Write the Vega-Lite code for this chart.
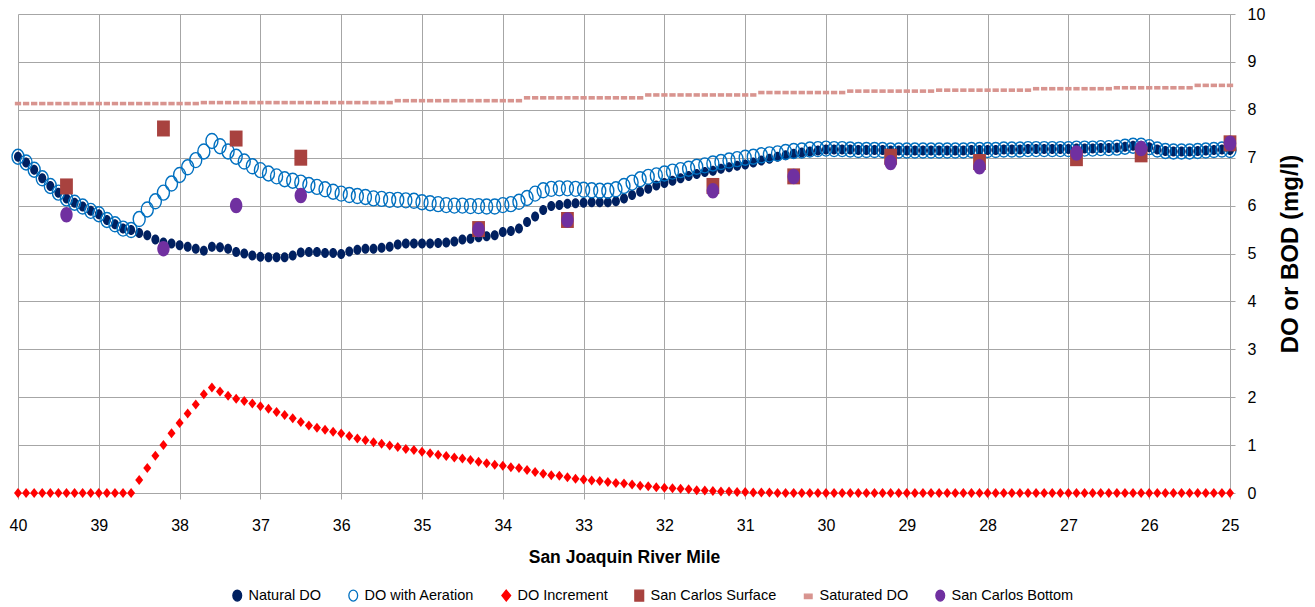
{
"$schema":"https://vega.github.io/schema/vega-lite/v6.json",
"width":1212,"height":479,
"autosize":{"type":"none"},
"padding":{"left":18,"top":14,"right":85,"bottom":114},
"background":"white",
"config":{"view":{"stroke":null},"font":"Liberation Sans"},
"data":{"values":[
{"s":"Natural DO","m":40,"v":7.02},{"s":"Natural DO","m":39.9,"v":6.90},{"s":"Natural DO","m":39.8,"v":6.75},{"s":"Natural DO","m":39.7,"v":6.57},{"s":"Natural DO","m":39.6,"v":6.41},{"s":"Natural DO","m":39.5,"v":6.27},{"s":"Natural DO","m":39.4,"v":6.15},{"s":"Natural DO","m":39.3,"v":6.06},{"s":"Natural DO","m":39.2,"v":5.98},{"s":"Natural DO","m":39.1,"v":5.89},
{"s":"Natural DO","m":39,"v":5.82},{"s":"Natural DO","m":38.9,"v":5.70},{"s":"Natural DO","m":38.8,"v":5.61},{"s":"Natural DO","m":38.7,"v":5.52},{"s":"Natural DO","m":38.6,"v":5.49},{"s":"Natural DO","m":38.5,"v":5.43},{"s":"Natural DO","m":38.4,"v":5.38},{"s":"Natural DO","m":38.3,"v":5.29},{"s":"Natural DO","m":38.2,"v":5.23},{"s":"Natural DO","m":38.1,"v":5.21},
{"s":"Natural DO","m":38,"v":5.17},{"s":"Natural DO","m":37.9,"v":5.14},{"s":"Natural DO","m":37.8,"v":5.10},{"s":"Natural DO","m":37.7,"v":5.06},{"s":"Natural DO","m":37.6,"v":5.14},{"s":"Natural DO","m":37.5,"v":5.13},{"s":"Natural DO","m":37.4,"v":5.10},{"s":"Natural DO","m":37.3,"v":5.03},{"s":"Natural DO","m":37.2,"v":5.00},{"s":"Natural DO","m":37.1,"v":4.96},
{"s":"Natural DO","m":37,"v":4.93},{"s":"Natural DO","m":36.9,"v":4.92},{"s":"Natural DO","m":36.8,"v":4.92},{"s":"Natural DO","m":36.7,"v":4.92},{"s":"Natural DO","m":36.6,"v":4.96},{"s":"Natural DO","m":36.5,"v":5.02},{"s":"Natural DO","m":36.4,"v":5.03},{"s":"Natural DO","m":36.3,"v":5.03},{"s":"Natural DO","m":36.2,"v":5.01},{"s":"Natural DO","m":36.1,"v":5.01},
{"s":"Natural DO","m":36,"v":4.99},{"s":"Natural DO","m":35.9,"v":5.04},{"s":"Natural DO","m":35.8,"v":5.08},{"s":"Natural DO","m":35.7,"v":5.10},{"s":"Natural DO","m":35.6,"v":5.10},{"s":"Natural DO","m":35.5,"v":5.12},{"s":"Natural DO","m":35.4,"v":5.14},{"s":"Natural DO","m":35.3,"v":5.19},{"s":"Natural DO","m":35.2,"v":5.21},{"s":"Natural DO","m":35.1,"v":5.21},
{"s":"Natural DO","m":35,"v":5.21},{"s":"Natural DO","m":34.9,"v":5.21},{"s":"Natural DO","m":34.8,"v":5.22},{"s":"Natural DO","m":34.7,"v":5.23},{"s":"Natural DO","m":34.6,"v":5.25},{"s":"Natural DO","m":34.5,"v":5.29},{"s":"Natural DO","m":34.4,"v":5.31},{"s":"Natural DO","m":34.3,"v":5.34},{"s":"Natural DO","m":34.2,"v":5.36},{"s":"Natural DO","m":34.1,"v":5.38},
{"s":"Natural DO","m":34,"v":5.45},{"s":"Natural DO","m":33.9,"v":5.47},{"s":"Natural DO","m":33.8,"v":5.52},{"s":"Natural DO","m":33.7,"v":5.66},{"s":"Natural DO","m":33.6,"v":5.77},{"s":"Natural DO","m":33.5,"v":5.91},{"s":"Natural DO","m":33.4,"v":5.99},{"s":"Natural DO","m":33.3,"v":6.01},{"s":"Natural DO","m":33.2,"v":6.04},{"s":"Natural DO","m":33.1,"v":6.05},
{"s":"Natural DO","m":33,"v":6.06},{"s":"Natural DO","m":32.9,"v":6.07},{"s":"Natural DO","m":32.8,"v":6.07},{"s":"Natural DO","m":32.7,"v":6.07},{"s":"Natural DO","m":32.6,"v":6.09},{"s":"Natural DO","m":32.5,"v":6.15},{"s":"Natural DO","m":32.4,"v":6.22},{"s":"Natural DO","m":32.3,"v":6.29},{"s":"Natural DO","m":32.2,"v":6.35},{"s":"Natural DO","m":32.1,"v":6.42},
{"s":"Natural DO","m":32,"v":6.47},{"s":"Natural DO","m":31.9,"v":6.52},{"s":"Natural DO","m":31.8,"v":6.57},{"s":"Natural DO","m":31.7,"v":6.62},{"s":"Natural DO","m":31.6,"v":6.66},{"s":"Natural DO","m":31.5,"v":6.70},{"s":"Natural DO","m":31.4,"v":6.73},{"s":"Natural DO","m":31.3,"v":6.77},{"s":"Natural DO","m":31.2,"v":6.80},{"s":"Natural DO","m":31.1,"v":6.83},
{"s":"Natural DO","m":31,"v":6.86},{"s":"Natural DO","m":30.9,"v":6.90},{"s":"Natural DO","m":30.8,"v":6.94},{"s":"Natural DO","m":30.7,"v":6.98},{"s":"Natural DO","m":30.6,"v":7.02},{"s":"Natural DO","m":30.5,"v":7.05},{"s":"Natural DO","m":30.4,"v":7.08},{"s":"Natural DO","m":30.3,"v":7.11},{"s":"Natural DO","m":30.2,"v":7.13},{"s":"Natural DO","m":30.1,"v":7.15},
{"s":"Natural DO","m":30,"v":7.17},{"s":"Natural DO","m":29.9,"v":7.17},{"s":"Natural DO","m":29.8,"v":7.17},{"s":"Natural DO","m":29.7,"v":7.17},{"s":"Natural DO","m":29.6,"v":7.16},{"s":"Natural DO","m":29.5,"v":7.16},{"s":"Natural DO","m":29.4,"v":7.16},{"s":"Natural DO","m":29.3,"v":7.16},{"s":"Natural DO","m":29.2,"v":7.15},{"s":"Natural DO","m":29.1,"v":7.15},
{"s":"Natural DO","m":29,"v":7.15},{"s":"Natural DO","m":28.9,"v":7.15},{"s":"Natural DO","m":28.8,"v":7.15},{"s":"Natural DO","m":28.7,"v":7.15},{"s":"Natural DO","m":28.6,"v":7.15},{"s":"Natural DO","m":28.5,"v":7.15},{"s":"Natural DO","m":28.4,"v":7.15},{"s":"Natural DO","m":28.3,"v":7.15},{"s":"Natural DO","m":28.2,"v":7.16},{"s":"Natural DO","m":28.1,"v":7.16},
{"s":"Natural DO","m":28,"v":7.16},{"s":"Natural DO","m":27.9,"v":7.16},{"s":"Natural DO","m":27.8,"v":7.17},{"s":"Natural DO","m":27.7,"v":7.17},{"s":"Natural DO","m":27.6,"v":7.17},{"s":"Natural DO","m":27.5,"v":7.18},{"s":"Natural DO","m":27.4,"v":7.18},{"s":"Natural DO","m":27.3,"v":7.18},{"s":"Natural DO","m":27.2,"v":7.18},{"s":"Natural DO","m":27.1,"v":7.18},
{"s":"Natural DO","m":27,"v":7.18},{"s":"Natural DO","m":26.9,"v":7.19},{"s":"Natural DO","m":26.8,"v":7.19},{"s":"Natural DO","m":26.7,"v":7.19},{"s":"Natural DO","m":26.6,"v":7.20},{"s":"Natural DO","m":26.5,"v":7.20},{"s":"Natural DO","m":26.4,"v":7.21},{"s":"Natural DO","m":26.3,"v":7.23},{"s":"Natural DO","m":26.2,"v":7.25},{"s":"Natural DO","m":26.1,"v":7.25},
{"s":"Natural DO","m":26,"v":7.22},{"s":"Natural DO","m":25.9,"v":7.17},{"s":"Natural DO","m":25.8,"v":7.14},{"s":"Natural DO","m":25.7,"v":7.13},{"s":"Natural DO","m":25.6,"v":7.13},{"s":"Natural DO","m":25.5,"v":7.13},{"s":"Natural DO","m":25.4,"v":7.14},{"s":"Natural DO","m":25.3,"v":7.15},{"s":"Natural DO","m":25.2,"v":7.16},{"s":"Natural DO","m":25.1,"v":7.17},
{"s":"Natural DO","m":25,"v":7.16},
{"s":"DO with Aeration","m":40,"v":7.02},{"s":"DO with Aeration","m":39.9,"v":6.90},{"s":"DO with Aeration","m":39.8,"v":6.75},{"s":"DO with Aeration","m":39.7,"v":6.57},{"s":"DO with Aeration","m":39.6,"v":6.41},{"s":"DO with Aeration","m":39.5,"v":6.27},{"s":"DO with Aeration","m":39.4,"v":6.15},{"s":"DO with Aeration","m":39.3,"v":6.06},{"s":"DO with Aeration","m":39.2,"v":5.98},{"s":"DO with Aeration","m":39.1,"v":5.89},
{"s":"DO with Aeration","m":39,"v":5.82},{"s":"DO with Aeration","m":38.9,"v":5.70},{"s":"DO with Aeration","m":38.8,"v":5.61},{"s":"DO with Aeration","m":38.7,"v":5.52},{"s":"DO with Aeration","m":38.6,"v":5.49},{"s":"DO with Aeration","m":38.5,"v":5.72},{"s":"DO with Aeration","m":38.4,"v":5.92},{"s":"DO with Aeration","m":38.3,"v":6.09},{"s":"DO with Aeration","m":38.2,"v":6.27},{"s":"DO with Aeration","m":38.1,"v":6.46},
{"s":"DO with Aeration","m":38,"v":6.64},{"s":"DO with Aeration","m":37.9,"v":6.80},{"s":"DO with Aeration","m":37.8,"v":6.95},{"s":"DO with Aeration","m":37.7,"v":7.13},{"s":"DO with Aeration","m":37.6,"v":7.35},{"s":"DO with Aeration","m":37.5,"v":7.24},{"s":"DO with Aeration","m":37.4,"v":7.13},{"s":"DO with Aeration","m":37.3,"v":7.02},{"s":"DO with Aeration","m":37.2,"v":6.92},{"s":"DO with Aeration","m":37.1,"v":6.82},
{"s":"DO with Aeration","m":37,"v":6.74},{"s":"DO with Aeration","m":36.9,"v":6.67},{"s":"DO with Aeration","m":36.8,"v":6.61},{"s":"DO with Aeration","m":36.7,"v":6.55},{"s":"DO with Aeration","m":36.6,"v":6.52},{"s":"DO with Aeration","m":36.5,"v":6.48},{"s":"DO with Aeration","m":36.4,"v":6.43},{"s":"DO with Aeration","m":36.3,"v":6.39},{"s":"DO with Aeration","m":36.2,"v":6.34},{"s":"DO with Aeration","m":36.1,"v":6.29},
{"s":"DO with Aeration","m":36,"v":6.25},{"s":"DO with Aeration","m":35.9,"v":6.22},{"s":"DO with Aeration","m":35.8,"v":6.20},{"s":"DO with Aeration","m":35.7,"v":6.18},{"s":"DO with Aeration","m":35.6,"v":6.15},{"s":"DO with Aeration","m":35.5,"v":6.14},{"s":"DO with Aeration","m":35.4,"v":6.12},{"s":"DO with Aeration","m":35.3,"v":6.12},{"s":"DO with Aeration","m":35.2,"v":6.11},{"s":"DO with Aeration","m":35.1,"v":6.10},
{"s":"DO with Aeration","m":35,"v":6.07},{"s":"DO with Aeration","m":34.9,"v":6.05},{"s":"DO with Aeration","m":34.8,"v":6.03},{"s":"DO with Aeration","m":34.7,"v":6.01},{"s":"DO with Aeration","m":34.6,"v":6.00},{"s":"DO with Aeration","m":34.5,"v":6.00},{"s":"DO with Aeration","m":34.4,"v":5.99},{"s":"DO with Aeration","m":34.3,"v":5.99},{"s":"DO with Aeration","m":34.2,"v":5.98},{"s":"DO with Aeration","m":34.1,"v":5.98},
{"s":"DO with Aeration","m":34,"v":6.01},{"s":"DO with Aeration","m":33.9,"v":6.03},{"s":"DO with Aeration","m":33.8,"v":6.08},{"s":"DO with Aeration","m":33.7,"v":6.16},{"s":"DO with Aeration","m":33.6,"v":6.25},{"s":"DO with Aeration","m":33.5,"v":6.32},{"s":"DO with Aeration","m":33.4,"v":6.35},{"s":"DO with Aeration","m":33.3,"v":6.36},{"s":"DO with Aeration","m":33.2,"v":6.36},{"s":"DO with Aeration","m":33.1,"v":6.35},
{"s":"DO with Aeration","m":33,"v":6.33},{"s":"DO with Aeration","m":32.9,"v":6.32},{"s":"DO with Aeration","m":32.8,"v":6.31},{"s":"DO with Aeration","m":32.7,"v":6.31},{"s":"DO with Aeration","m":32.6,"v":6.34},{"s":"DO with Aeration","m":32.5,"v":6.41},{"s":"DO with Aeration","m":32.4,"v":6.48},{"s":"DO with Aeration","m":32.3,"v":6.55},{"s":"DO with Aeration","m":32.2,"v":6.60},{"s":"DO with Aeration","m":32.1,"v":6.63},
{"s":"DO with Aeration","m":32,"v":6.67},{"s":"DO with Aeration","m":31.9,"v":6.71},{"s":"DO with Aeration","m":31.8,"v":6.74},{"s":"DO with Aeration","m":31.7,"v":6.77},{"s":"DO with Aeration","m":31.6,"v":6.81},{"s":"DO with Aeration","m":31.5,"v":6.84},{"s":"DO with Aeration","m":31.4,"v":6.88},{"s":"DO with Aeration","m":31.3,"v":6.91},{"s":"DO with Aeration","m":31.2,"v":6.94},{"s":"DO with Aeration","m":31.1,"v":6.97},
{"s":"DO with Aeration","m":31,"v":7.00},{"s":"DO with Aeration","m":30.9,"v":7.02},{"s":"DO with Aeration","m":30.8,"v":7.05},{"s":"DO with Aeration","m":30.7,"v":7.07},{"s":"DO with Aeration","m":30.6,"v":7.09},{"s":"DO with Aeration","m":30.5,"v":7.12},{"s":"DO with Aeration","m":30.4,"v":7.14},{"s":"DO with Aeration","m":30.3,"v":7.15},{"s":"DO with Aeration","m":30.2,"v":7.17},{"s":"DO with Aeration","m":30.1,"v":7.18},
{"s":"DO with Aeration","m":30,"v":7.19},{"s":"DO with Aeration","m":29.9,"v":7.18},{"s":"DO with Aeration","m":29.8,"v":7.18},{"s":"DO with Aeration","m":29.7,"v":7.17},{"s":"DO with Aeration","m":29.6,"v":7.16},{"s":"DO with Aeration","m":29.5,"v":7.16},{"s":"DO with Aeration","m":29.4,"v":7.16},{"s":"DO with Aeration","m":29.3,"v":7.16},{"s":"DO with Aeration","m":29.2,"v":7.15},{"s":"DO with Aeration","m":29.1,"v":7.15},
{"s":"DO with Aeration","m":29,"v":7.15},{"s":"DO with Aeration","m":28.9,"v":7.15},{"s":"DO with Aeration","m":28.8,"v":7.15},{"s":"DO with Aeration","m":28.7,"v":7.15},{"s":"DO with Aeration","m":28.6,"v":7.15},{"s":"DO with Aeration","m":28.5,"v":7.15},{"s":"DO with Aeration","m":28.4,"v":7.15},{"s":"DO with Aeration","m":28.3,"v":7.15},{"s":"DO with Aeration","m":28.2,"v":7.16},{"s":"DO with Aeration","m":28.1,"v":7.16},
{"s":"DO with Aeration","m":28,"v":7.16},{"s":"DO with Aeration","m":27.9,"v":7.16},{"s":"DO with Aeration","m":27.8,"v":7.17},{"s":"DO with Aeration","m":27.7,"v":7.17},{"s":"DO with Aeration","m":27.6,"v":7.17},{"s":"DO with Aeration","m":27.5,"v":7.18},{"s":"DO with Aeration","m":27.4,"v":7.18},{"s":"DO with Aeration","m":27.3,"v":7.18},{"s":"DO with Aeration","m":27.2,"v":7.18},{"s":"DO with Aeration","m":27.1,"v":7.18},
{"s":"DO with Aeration","m":27,"v":7.18},{"s":"DO with Aeration","m":26.9,"v":7.19},{"s":"DO with Aeration","m":26.8,"v":7.19},{"s":"DO with Aeration","m":26.7,"v":7.19},{"s":"DO with Aeration","m":26.6,"v":7.20},{"s":"DO with Aeration","m":26.5,"v":7.20},{"s":"DO with Aeration","m":26.4,"v":7.21},{"s":"DO with Aeration","m":26.3,"v":7.23},{"s":"DO with Aeration","m":26.2,"v":7.25},{"s":"DO with Aeration","m":26.1,"v":7.25},
{"s":"DO with Aeration","m":26,"v":7.22},{"s":"DO with Aeration","m":25.9,"v":7.17},{"s":"DO with Aeration","m":25.8,"v":7.14},{"s":"DO with Aeration","m":25.7,"v":7.13},{"s":"DO with Aeration","m":25.6,"v":7.13},{"s":"DO with Aeration","m":25.5,"v":7.13},{"s":"DO with Aeration","m":25.4,"v":7.14},{"s":"DO with Aeration","m":25.3,"v":7.15},{"s":"DO with Aeration","m":25.2,"v":7.16},{"s":"DO with Aeration","m":25.1,"v":7.17},
{"s":"DO with Aeration","m":25,"v":7.16},
{"s":"DO Increment","m":40,"v":0},{"s":"DO Increment","m":39.9,"v":0},{"s":"DO Increment","m":39.8,"v":0},{"s":"DO Increment","m":39.7,"v":0},{"s":"DO Increment","m":39.6,"v":0},{"s":"DO Increment","m":39.5,"v":0},{"s":"DO Increment","m":39.4,"v":0},{"s":"DO Increment","m":39.3,"v":0},{"s":"DO Increment","m":39.2,"v":0},{"s":"DO Increment","m":39.1,"v":0},
{"s":"DO Increment","m":39,"v":0},{"s":"DO Increment","m":38.9,"v":0},{"s":"DO Increment","m":38.8,"v":0},{"s":"DO Increment","m":38.7,"v":0},{"s":"DO Increment","m":38.6,"v":0},{"s":"DO Increment","m":38.5,"v":0.27},{"s":"DO Increment","m":38.4,"v":0.52},{"s":"DO Increment","m":38.3,"v":0.78},{"s":"DO Increment","m":38.2,"v":1.00},{"s":"DO Increment","m":38.1,"v":1.25},
{"s":"DO Increment","m":38,"v":1.46},{"s":"DO Increment","m":37.9,"v":1.66},{"s":"DO Increment","m":37.8,"v":1.85},{"s":"DO Increment","m":37.7,"v":2.06},{"s":"DO Increment","m":37.6,"v":2.20},{"s":"DO Increment","m":37.5,"v":2.12},{"s":"DO Increment","m":37.4,"v":2.03},{"s":"DO Increment","m":37.3,"v":1.97},{"s":"DO Increment","m":37.2,"v":1.92},{"s":"DO Increment","m":37.1,"v":1.87},
{"s":"DO Increment","m":37,"v":1.81},{"s":"DO Increment","m":36.9,"v":1.76},{"s":"DO Increment","m":36.8,"v":1.69},{"s":"DO Increment","m":36.7,"v":1.63},{"s":"DO Increment","m":36.6,"v":1.56},{"s":"DO Increment","m":36.5,"v":1.48},{"s":"DO Increment","m":36.4,"v":1.41},{"s":"DO Increment","m":36.3,"v":1.36},{"s":"DO Increment","m":36.2,"v":1.32},{"s":"DO Increment","m":36.1,"v":1.28},
{"s":"DO Increment","m":36,"v":1.24},{"s":"DO Increment","m":35.9,"v":1.19},{"s":"DO Increment","m":35.8,"v":1.14},{"s":"DO Increment","m":35.7,"v":1.10},{"s":"DO Increment","m":35.6,"v":1.06},{"s":"DO Increment","m":35.5,"v":1.03},{"s":"DO Increment","m":35.4,"v":0.99},{"s":"DO Increment","m":35.3,"v":0.96},{"s":"DO Increment","m":35.2,"v":0.92},{"s":"DO Increment","m":35.1,"v":0.90},
{"s":"DO Increment","m":35,"v":0.86},{"s":"DO Increment","m":34.9,"v":0.83},{"s":"DO Increment","m":34.8,"v":0.80},{"s":"DO Increment","m":34.7,"v":0.77},{"s":"DO Increment","m":34.6,"v":0.74},{"s":"DO Increment","m":34.5,"v":0.72},{"s":"DO Increment","m":34.4,"v":0.69},{"s":"DO Increment","m":34.3,"v":0.65},{"s":"DO Increment","m":34.2,"v":0.62},{"s":"DO Increment","m":34.1,"v":0.59},
{"s":"DO Increment","m":34,"v":0.57},{"s":"DO Increment","m":33.9,"v":0.54},{"s":"DO Increment","m":33.8,"v":0.52},{"s":"DO Increment","m":33.7,"v":0.48},{"s":"DO Increment","m":33.6,"v":0.44},{"s":"DO Increment","m":33.5,"v":0.40},{"s":"DO Increment","m":33.4,"v":0.37},{"s":"DO Increment","m":33.3,"v":0.36},{"s":"DO Increment","m":33.2,"v":0.33},{"s":"DO Increment","m":33.1,"v":0.30},
{"s":"DO Increment","m":33,"v":0.28},{"s":"DO Increment","m":32.9,"v":0.26},{"s":"DO Increment","m":32.8,"v":0.25},{"s":"DO Increment","m":32.7,"v":0.23},{"s":"DO Increment","m":32.6,"v":0.21},{"s":"DO Increment","m":32.5,"v":0.20},{"s":"DO Increment","m":32.4,"v":0.18},{"s":"DO Increment","m":32.3,"v":0.15},{"s":"DO Increment","m":32.2,"v":0.14},{"s":"DO Increment","m":32.1,"v":0.12},
{"s":"DO Increment","m":32,"v":0.11},{"s":"DO Increment","m":31.9,"v":0.10},{"s":"DO Increment","m":31.8,"v":0.09},{"s":"DO Increment","m":31.7,"v":0.08},{"s":"DO Increment","m":31.6,"v":0.06},{"s":"DO Increment","m":31.5,"v":0.05},{"s":"DO Increment","m":31.4,"v":0.04},{"s":"DO Increment","m":31.3,"v":0.03},{"s":"DO Increment","m":31.2,"v":0.03},{"s":"DO Increment","m":31.1,"v":0.02},
{"s":"DO Increment","m":31,"v":0.02},{"s":"DO Increment","m":30.9,"v":0.01},{"s":"DO Increment","m":30.8,"v":0.01},{"s":"DO Increment","m":30.7,"v":0.01},{"s":"DO Increment","m":30.6,"v":0},{"s":"DO Increment","m":30.5,"v":0},{"s":"DO Increment","m":30.4,"v":0},{"s":"DO Increment","m":30.3,"v":0},{"s":"DO Increment","m":30.2,"v":0},{"s":"DO Increment","m":30.1,"v":0},
{"s":"DO Increment","m":30,"v":0},{"s":"DO Increment","m":29.9,"v":0},{"s":"DO Increment","m":29.8,"v":0},{"s":"DO Increment","m":29.7,"v":0},{"s":"DO Increment","m":29.6,"v":0},{"s":"DO Increment","m":29.5,"v":0},{"s":"DO Increment","m":29.4,"v":0},{"s":"DO Increment","m":29.3,"v":0},{"s":"DO Increment","m":29.2,"v":0},{"s":"DO Increment","m":29.1,"v":0},
{"s":"DO Increment","m":29,"v":0},{"s":"DO Increment","m":28.9,"v":0},{"s":"DO Increment","m":28.8,"v":0},{"s":"DO Increment","m":28.7,"v":0},{"s":"DO Increment","m":28.6,"v":0},{"s":"DO Increment","m":28.5,"v":0},{"s":"DO Increment","m":28.4,"v":0},{"s":"DO Increment","m":28.3,"v":0},{"s":"DO Increment","m":28.2,"v":0},{"s":"DO Increment","m":28.1,"v":0},
{"s":"DO Increment","m":28,"v":0},{"s":"DO Increment","m":27.9,"v":0},{"s":"DO Increment","m":27.8,"v":0},{"s":"DO Increment","m":27.7,"v":0},{"s":"DO Increment","m":27.6,"v":0},{"s":"DO Increment","m":27.5,"v":0},{"s":"DO Increment","m":27.4,"v":0},{"s":"DO Increment","m":27.3,"v":0},{"s":"DO Increment","m":27.2,"v":0},{"s":"DO Increment","m":27.1,"v":0},
{"s":"DO Increment","m":27,"v":0},{"s":"DO Increment","m":26.9,"v":0},{"s":"DO Increment","m":26.8,"v":0},{"s":"DO Increment","m":26.7,"v":0},{"s":"DO Increment","m":26.6,"v":0},{"s":"DO Increment","m":26.5,"v":0},{"s":"DO Increment","m":26.4,"v":0},{"s":"DO Increment","m":26.3,"v":0},{"s":"DO Increment","m":26.2,"v":0},{"s":"DO Increment","m":26.1,"v":0},
{"s":"DO Increment","m":26,"v":0},{"s":"DO Increment","m":25.9,"v":0},{"s":"DO Increment","m":25.8,"v":0},{"s":"DO Increment","m":25.7,"v":0},{"s":"DO Increment","m":25.6,"v":0},{"s":"DO Increment","m":25.5,"v":0},{"s":"DO Increment","m":25.4,"v":0},{"s":"DO Increment","m":25.3,"v":0},{"s":"DO Increment","m":25.2,"v":0},{"s":"DO Increment","m":25.1,"v":0},
{"s":"DO Increment","m":25,"v":0},
{"s":"Saturated DO","m":40,"v":8.13},{"s":"Saturated DO","m":39.9,"v":8.13},{"s":"Saturated DO","m":39.8,"v":8.13},{"s":"Saturated DO","m":39.7,"v":8.13},{"s":"Saturated DO","m":39.6,"v":8.13},{"s":"Saturated DO","m":39.5,"v":8.13},{"s":"Saturated DO","m":39.4,"v":8.13},{"s":"Saturated DO","m":39.3,"v":8.13},{"s":"Saturated DO","m":39.2,"v":8.13},{"s":"Saturated DO","m":39.1,"v":8.13},
{"s":"Saturated DO","m":39,"v":8.13},{"s":"Saturated DO","m":38.9,"v":8.13},{"s":"Saturated DO","m":38.8,"v":8.13},{"s":"Saturated DO","m":38.7,"v":8.13},{"s":"Saturated DO","m":38.6,"v":8.13},{"s":"Saturated DO","m":38.5,"v":8.13},{"s":"Saturated DO","m":38.4,"v":8.13},{"s":"Saturated DO","m":38.3,"v":8.13},{"s":"Saturated DO","m":38.2,"v":8.13},{"s":"Saturated DO","m":38.1,"v":8.13},
{"s":"Saturated DO","m":38,"v":8.13},{"s":"Saturated DO","m":37.9,"v":8.13},{"s":"Saturated DO","m":37.8,"v":8.13},{"s":"Saturated DO","m":37.7,"v":8.15},{"s":"Saturated DO","m":37.6,"v":8.15},{"s":"Saturated DO","m":37.5,"v":8.15},{"s":"Saturated DO","m":37.4,"v":8.15},{"s":"Saturated DO","m":37.3,"v":8.15},{"s":"Saturated DO","m":37.2,"v":8.15},{"s":"Saturated DO","m":37.1,"v":8.15},
{"s":"Saturated DO","m":37,"v":8.15},{"s":"Saturated DO","m":36.9,"v":8.15},{"s":"Saturated DO","m":36.8,"v":8.15},{"s":"Saturated DO","m":36.7,"v":8.15},{"s":"Saturated DO","m":36.6,"v":8.15},{"s":"Saturated DO","m":36.5,"v":8.15},{"s":"Saturated DO","m":36.4,"v":8.15},{"s":"Saturated DO","m":36.3,"v":8.15},{"s":"Saturated DO","m":36.2,"v":8.15},{"s":"Saturated DO","m":36.1,"v":8.15},
{"s":"Saturated DO","m":36,"v":8.15},{"s":"Saturated DO","m":35.9,"v":8.15},{"s":"Saturated DO","m":35.8,"v":8.15},{"s":"Saturated DO","m":35.7,"v":8.15},{"s":"Saturated DO","m":35.6,"v":8.15},{"s":"Saturated DO","m":35.5,"v":8.15},{"s":"Saturated DO","m":35.4,"v":8.15},{"s":"Saturated DO","m":35.3,"v":8.19},{"s":"Saturated DO","m":35.2,"v":8.19},{"s":"Saturated DO","m":35.1,"v":8.19},
{"s":"Saturated DO","m":35,"v":8.19},{"s":"Saturated DO","m":34.9,"v":8.19},{"s":"Saturated DO","m":34.8,"v":8.19},{"s":"Saturated DO","m":34.7,"v":8.19},{"s":"Saturated DO","m":34.6,"v":8.19},{"s":"Saturated DO","m":34.5,"v":8.19},{"s":"Saturated DO","m":34.4,"v":8.19},{"s":"Saturated DO","m":34.3,"v":8.19},{"s":"Saturated DO","m":34.2,"v":8.19},{"s":"Saturated DO","m":34.1,"v":8.19},
{"s":"Saturated DO","m":34,"v":8.19},{"s":"Saturated DO","m":33.9,"v":8.19},{"s":"Saturated DO","m":33.8,"v":8.19},{"s":"Saturated DO","m":33.7,"v":8.25},{"s":"Saturated DO","m":33.6,"v":8.25},{"s":"Saturated DO","m":33.5,"v":8.25},{"s":"Saturated DO","m":33.4,"v":8.25},{"s":"Saturated DO","m":33.3,"v":8.25},{"s":"Saturated DO","m":33.2,"v":8.25},{"s":"Saturated DO","m":33.1,"v":8.25},
{"s":"Saturated DO","m":33,"v":8.25},{"s":"Saturated DO","m":32.9,"v":8.25},{"s":"Saturated DO","m":32.8,"v":8.25},{"s":"Saturated DO","m":32.7,"v":8.25},{"s":"Saturated DO","m":32.6,"v":8.25},{"s":"Saturated DO","m":32.5,"v":8.25},{"s":"Saturated DO","m":32.4,"v":8.25},{"s":"Saturated DO","m":32.3,"v":8.25},{"s":"Saturated DO","m":32.2,"v":8.31},{"s":"Saturated DO","m":32.1,"v":8.31},
{"s":"Saturated DO","m":32,"v":8.31},{"s":"Saturated DO","m":31.9,"v":8.31},{"s":"Saturated DO","m":31.8,"v":8.31},{"s":"Saturated DO","m":31.7,"v":8.31},{"s":"Saturated DO","m":31.6,"v":8.31},{"s":"Saturated DO","m":31.5,"v":8.31},{"s":"Saturated DO","m":31.4,"v":8.31},{"s":"Saturated DO","m":31.3,"v":8.31},{"s":"Saturated DO","m":31.2,"v":8.31},{"s":"Saturated DO","m":31.1,"v":8.31},
{"s":"Saturated DO","m":31,"v":8.31},{"s":"Saturated DO","m":30.9,"v":8.31},{"s":"Saturated DO","m":30.8,"v":8.36},{"s":"Saturated DO","m":30.7,"v":8.36},{"s":"Saturated DO","m":30.6,"v":8.36},{"s":"Saturated DO","m":30.5,"v":8.36},{"s":"Saturated DO","m":30.4,"v":8.36},{"s":"Saturated DO","m":30.3,"v":8.36},{"s":"Saturated DO","m":30.2,"v":8.36},{"s":"Saturated DO","m":30.1,"v":8.36},
{"s":"Saturated DO","m":30,"v":8.36},{"s":"Saturated DO","m":29.9,"v":8.36},{"s":"Saturated DO","m":29.8,"v":8.36},{"s":"Saturated DO","m":29.7,"v":8.39},{"s":"Saturated DO","m":29.6,"v":8.39},{"s":"Saturated DO","m":29.5,"v":8.39},{"s":"Saturated DO","m":29.4,"v":8.39},{"s":"Saturated DO","m":29.3,"v":8.39},{"s":"Saturated DO","m":29.2,"v":8.39},{"s":"Saturated DO","m":29.1,"v":8.39},
{"s":"Saturated DO","m":29,"v":8.39},{"s":"Saturated DO","m":28.9,"v":8.39},{"s":"Saturated DO","m":28.8,"v":8.39},{"s":"Saturated DO","m":28.7,"v":8.39},{"s":"Saturated DO","m":28.6,"v":8.41},{"s":"Saturated DO","m":28.5,"v":8.41},{"s":"Saturated DO","m":28.4,"v":8.41},{"s":"Saturated DO","m":28.3,"v":8.41},{"s":"Saturated DO","m":28.2,"v":8.41},{"s":"Saturated DO","m":28.1,"v":8.41},
{"s":"Saturated DO","m":28,"v":8.41},{"s":"Saturated DO","m":27.9,"v":8.41},{"s":"Saturated DO","m":27.8,"v":8.41},{"s":"Saturated DO","m":27.7,"v":8.41},{"s":"Saturated DO","m":27.6,"v":8.41},{"s":"Saturated DO","m":27.5,"v":8.41},{"s":"Saturated DO","m":27.4,"v":8.44},{"s":"Saturated DO","m":27.3,"v":8.44},{"s":"Saturated DO","m":27.2,"v":8.44},{"s":"Saturated DO","m":27.1,"v":8.44},
{"s":"Saturated DO","m":27,"v":8.44},{"s":"Saturated DO","m":26.9,"v":8.44},{"s":"Saturated DO","m":26.8,"v":8.44},{"s":"Saturated DO","m":26.7,"v":8.44},{"s":"Saturated DO","m":26.6,"v":8.44},{"s":"Saturated DO","m":26.5,"v":8.44},{"s":"Saturated DO","m":26.4,"v":8.46},{"s":"Saturated DO","m":26.3,"v":8.46},{"s":"Saturated DO","m":26.2,"v":8.46},{"s":"Saturated DO","m":26.1,"v":8.46},
{"s":"Saturated DO","m":26,"v":8.46},{"s":"Saturated DO","m":25.9,"v":8.46},{"s":"Saturated DO","m":25.8,"v":8.46},{"s":"Saturated DO","m":25.7,"v":8.46},{"s":"Saturated DO","m":25.6,"v":8.46},{"s":"Saturated DO","m":25.5,"v":8.46},{"s":"Saturated DO","m":25.4,"v":8.51},{"s":"Saturated DO","m":25.3,"v":8.51},{"s":"Saturated DO","m":25.2,"v":8.51},{"s":"Saturated DO","m":25.1,"v":8.51},
{"s":"Saturated DO","m":25,"v":8.51},
{"s":"San Carlos Surface","m":39.4,"v":6.40},{"s":"San Carlos Surface","m":38.2,"v":7.61},{"s":"San Carlos Surface","m":37.3,"v":7.40},{"s":"San Carlos Surface","m":36.5,"v":7.00},{"s":"San Carlos Surface","m":34.3,"v":5.51},{"s":"San Carlos Surface","m":33.2,"v":5.70},{"s":"San Carlos Surface","m":31.4,"v":6.41},{"s":"San Carlos Surface","m":30.4,"v":6.61},{"s":"San Carlos Surface","m":29.2,"v":7.02},{"s":"San Carlos Surface","m":28.1,"v":6.91},{"s":"San Carlos Surface","m":26.9,"v":6.99},{"s":"San Carlos Surface","m":26.1,"v":7.07},{"s":"San Carlos Surface","m":25,"v":7.30},
{"s":"San Carlos Bottom","m":39.4,"v":5.81},{"s":"San Carlos Bottom","m":38.2,"v":5.10},{"s":"San Carlos Bottom","m":37.3,"v":6.00},{"s":"San Carlos Bottom","m":36.5,"v":6.21},{"s":"San Carlos Bottom","m":34.3,"v":5.50},{"s":"San Carlos Bottom","m":33.2,"v":5.70},{"s":"San Carlos Bottom","m":31.4,"v":6.31},{"s":"San Carlos Bottom","m":30.4,"v":6.61},{"s":"San Carlos Bottom","m":29.2,"v":6.90},{"s":"San Carlos Bottom","m":28.1,"v":6.81},{"s":"San Carlos Bottom","m":26.9,"v":7.10},{"s":"San Carlos Bottom","m":26.1,"v":7.19},{"s":"San Carlos Bottom","m":25,"v":7.30}
]},
"encoding":{
"x":{"field":"m","type":"quantitative","scale":{"domain":[25,40],"reverse":true,"nice":false,"zero":false},
"axis":{"values":[25,26,27,28,29,30,31,32,33,34,35,36,37,38,39,40],"format":"d","grid":true,"gridColor":"#A6A6A6","gridWidth":1,"domainColor":"#A6A6A6","domainWidth":1,"tickColor":"#A6A6A6","tickSize":6,"labelPadding":18,"labelFont":"Liberation Sans","labelFontSize":16,"labelColor":"#000000","labelFlush":false,"labelOverlap":false,"title":"San Joaquin River Mile","titleFont":"Liberation Sans","titleFontSize":17.5,"titleFontWeight":"bold","titleColor":"#000000","titlePadding":15}},
"y":{"field":"v","type":"quantitative","scale":{"domain":[0,10],"nice":false},
"axis":{"orient":"right","values":[0,1,2,3,4,5,6,7,8,9,10],"format":"d","grid":true,"gridColor":"#A6A6A6","gridWidth":1,"domainColor":"#A6A6A6","domainWidth":1,"tickColor":"#A6A6A6","tickSize":5,"labelPadding":12,"labelFont":"Liberation Sans","labelFontSize":16,"labelColor":"#000000","labelFlush":false,"labelOverlap":false,"title":"DO or BOD (mg/l)","titleAngle":270,"titleFont":"Liberation Sans","titleFontSize":24,"titleFontWeight":"bold","titleColor":"#000000","titlePadding":38}},
"fill":{"field":"s","type":"nominal","scale":{"domain":["Natural DO","DO with Aeration","DO Increment","San Carlos Surface","Saturated DO","San Carlos Bottom"],"range":["#002060","transparent","#FF0000","#A8423F","#D8948F","#7030A0"]},
"legend":{"title":null,"orient":"none","legendX":212,"legendY":574,"direction":"horizontal","columns":6,"columnPadding":24,"labelFont":"Liberation Sans","labelFontSize":14.5,"labelColor":"#000000","labelOffset":4,"symbolSize":120,"symbolStrokeWidth":1.3,"symbolOpacity":1}},
"stroke":{"field":"s","type":"nominal","scale":{"domain":["Natural DO","DO with Aeration","DO Increment","San Carlos Surface","Saturated DO","San Carlos Bottom"],"range":["#002060","#0070C0","#FF0000","#A8423F","#D8948F","#7030A0"]},
"legend":{"title":null,"orient":"none","legendX":212,"legendY":574,"direction":"horizontal","columns":6,"columnPadding":24,"labelFont":"Liberation Sans","labelFontSize":14.5,"labelColor":"#000000","labelOffset":4,"symbolSize":120,"symbolStrokeWidth":1.3,"symbolOpacity":1}},
"shape":{"field":"s","type":"nominal","scale":{"domain":["Natural DO","DO with Aeration","DO Increment","San Carlos Surface","Saturated DO","San Carlos Bottom"],"range":["M0,-1A0.8,1,0,1,1,0,1A0.8,1,0,1,1,0,-1Z","M0,-1A0.8,1,0,1,1,0,1A0.8,1,0,1,1,0,-1Z","M0,-1L0.8,0L0,1L-0.8,0Z","M-0.8,-1L0.8,-1L0.8,1L-0.8,1Z","M-0.7,-0.4L0.7,-0.4L0.7,0.4L-0.7,0.4Z","M0,-1A0.8,1,0,1,1,0,1A0.8,1,0,1,1,0,-1Z"]},
"legend":{"title":null,"orient":"none","legendX":212,"legendY":574,"direction":"horizontal","columns":6,"columnPadding":24,"labelFont":"Liberation Sans","labelFontSize":14.5,"labelColor":"#000000","labelOffset":4,"symbolSize":120,"symbolStrokeWidth":1.3,"symbolOpacity":1}}
},
"layer":[
{"transform":[{"filter":"datum.s === 'Saturated DO'"}],"mark":{"type":"point","filled":true,"size":81,"strokeWidth":0,"opacity":1}},
{"transform":[{"filter":"datum.s === 'DO Increment'"}],"mark":{"type":"point","filled":true,"size":100,"strokeWidth":0,"opacity":1}},
{"transform":[{"filter":"datum.s === 'Natural DO'"}],"mark":{"type":"point","filled":true,"size":100,"strokeWidth":0,"opacity":1}},
{"transform":[{"filter":"datum.s === 'DO with Aeration'"}],"mark":{"type":"point","filled":true,"size":225,"strokeWidth":1.4,"opacity":1}},
{"transform":[{"filter":"datum.s === 'San Carlos Surface'"}],"mark":{"type":"point","filled":true,"size":256,"strokeWidth":0,"opacity":1}},
{"transform":[{"filter":"datum.s === 'San Carlos Bottom'"}],"mark":{"type":"point","filled":true,"size":240,"strokeWidth":0,"opacity":1}}
]
}
